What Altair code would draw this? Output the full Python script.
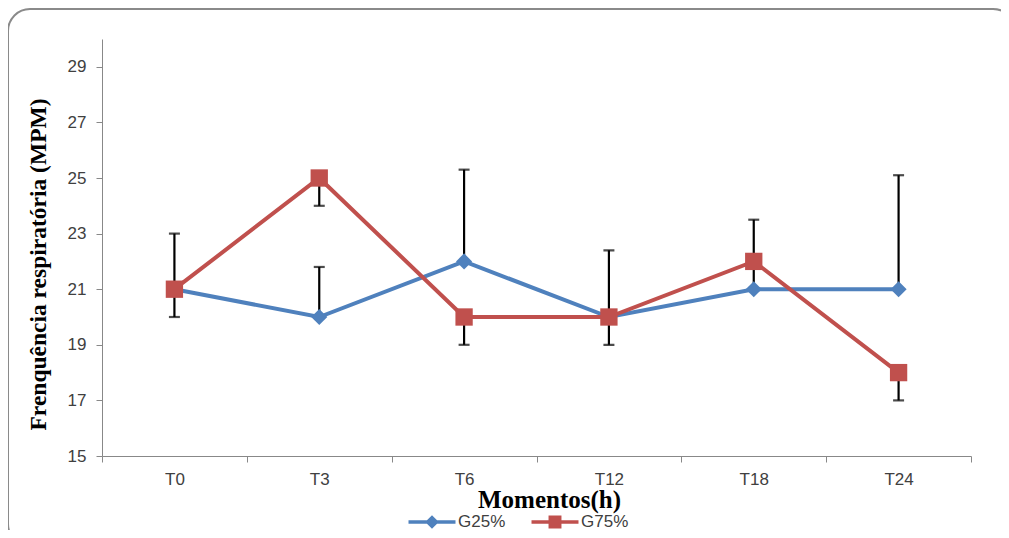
import altair as alt
import pandas as pd

moments = ["T0", "T3", "T6", "T12", "T18", "T24"]
series_names = ["G25%", "G75%"]
g25_values = [21, 20, 22, 20, 21, 21]
g75_values = [21, 25, 20, 20, 22, 18]
g25_err_end = [23, 21.8, 25.3, 22.4, 22, 25.1]
g75_err_end = [20, 24, 19, 19, 23.5, 17]
y_ticks = [15, 17, 19, 21, 23, 25, 27, 29]

colors = ["#4F81BD", "#C0504D"]

rows = []
for s, vals, errs in [("G25%", g25_values, g25_err_end), ("G75%", g75_values, g75_err_end)]:
    for m, v, e in zip(moments, vals, errs):
        rows.append({"moment": m, "series": s, "value": v, "err": e})
df = pd.DataFrame(rows)

W, H = 869, 417

x_enc = alt.X(
    "moment:N",
    sort=moments,
    scale=alt.Scale(paddingInner=0, paddingOuter=0),
    axis=alt.Axis(
        title="Momentos(h)",
        labelAngle=0,
        tickBand="extent",
        tickSize=6,
        labelPadding=9,
        titlePadding=0,
        titleX=447,
        titleAlign="center",
        domainColor="#888888",
        tickColor="#888888",
        labelColor="#404040",
        labelFont="Liberation Sans",
        labelFontSize=17,
        titleFont="Liberation Serif",
        titleFontSize=25,
        titleFontWeight="bold",
        titleColor="#000000",
    ),
)
y_scale = alt.Scale(domain=[15, 30], nice=False, zero=False)
y_axis = alt.Axis(
    title="Frenquência respiratória (MPM)",
    values=y_ticks,
    grid=False,
    tickSize=6,
    labelPadding=10,
    domainColor="#888888",
    tickColor="#888888",
    labelColor="#404040",
    labelFont="Liberation Sans",
    labelFontSize=17,
    titleFont="Liberation Serif",
    titleFontSize=23.5,
    titleFontWeight="bold",
    titleColor="#000000",
    titleAngle=270,
    titleAlign="center",
    titleBaseline="middle",
    titleX=-64,
    titleY=225,
)
color_enc = alt.Color(
    "series:N",
    scale=alt.Scale(domain=series_names, range=colors),
    legend=None,
)

base = alt.Chart(df)

frame = alt.Chart(pd.DataFrame({"k": [0]})).mark_rect(
    fill="transparent", stroke="#8a8a8a", strokeWidth=2, cornerRadius=22
).encode(
    x=alt.value(-94), x2=alt.value(913), y=alt.value(-30), y2=alt.value(507)
)

path_diamond = "M-2,-0.14L2,-0.14L2,0.14L-2,0.14Z M0,-0.58L0.58,0L0,0.58L-0.58,0Z"
path_square = "M-2,-0.14L2,-0.14L2,0.14L-2,0.14Z M-0.55,-0.55L0.55,-0.55L0.55,0.55L-0.55,0.55Z"
legend_spec = alt.Legend(
    title=None,
    orient="none",
    direction="horizontal",
    legendX=318,
    legendY=471,
    symbolSize=552,
    symbolOpacity=1,
    labelOffset=14,
    columnPadding=25,
    labelFont="Liberation Sans",
    labelFontSize=17,
    labelColor="#404040",
    padding=0,
    symbolStrokeWidth=0,
)
# invisible layer used only to carry the legend (line + marker symbols)
legend_layer = base.mark_point(filled=True, size=552, opacity=0).encode(
    x=x_enc,
    y=alt.Y("value:Q", scale=y_scale, axis=y_axis),
    color=alt.Color("series:N", scale=alt.Scale(domain=series_names, range=colors), legend=legend_spec),
    shape=alt.Shape(
        "series:N",
        scale=alt.Scale(domain=series_names, range=[path_diamond, path_square]),
        legend=legend_spec,
    ),
)

err_rules = base.mark_rule(color="black", strokeWidth=2.2).encode(
    x=x_enc,
    y=alt.Y("value:Q", scale=y_scale),
    y2="err:Q",
)
err_caps = base.mark_tick(color="black", thickness=2.2, size=11, orient="horizontal").encode(
    x=x_enc,
    y=alt.Y("err:Q", scale=y_scale),
)
lines = base.mark_line(strokeWidth=4).encode(
    x=x_enc,
    y=alt.Y("value:Q", scale=y_scale),
    color=color_enc,
    detail="series:N",
)
pts25 = base.transform_filter(alt.datum.series == "G25%").mark_point(
    shape="diamond", filled=True, size=260, opacity=1
).encode(x=x_enc, y=alt.Y("value:Q", scale=y_scale), color=color_enc)
pts75 = base.transform_filter(alt.datum.series == "G75%").mark_point(
    shape="square", filled=True, size=300, opacity=1
).encode(x=x_enc, y=alt.Y("value:Q", scale=y_scale), color=color_enc)

chart = alt.layer(frame, legend_layer, err_rules, err_caps, lines, pts25, pts75).properties(
    width=W,
    height=H,
    autosize=alt.AutoSizeParams(type="none"),
    padding={"left": 94, "top": 31, "right": 30, "bottom": 74},
    background="white",
).configure_view(stroke=None)

chart.save("out.html", embed_options={"renderer": "svg", "actions": False})
